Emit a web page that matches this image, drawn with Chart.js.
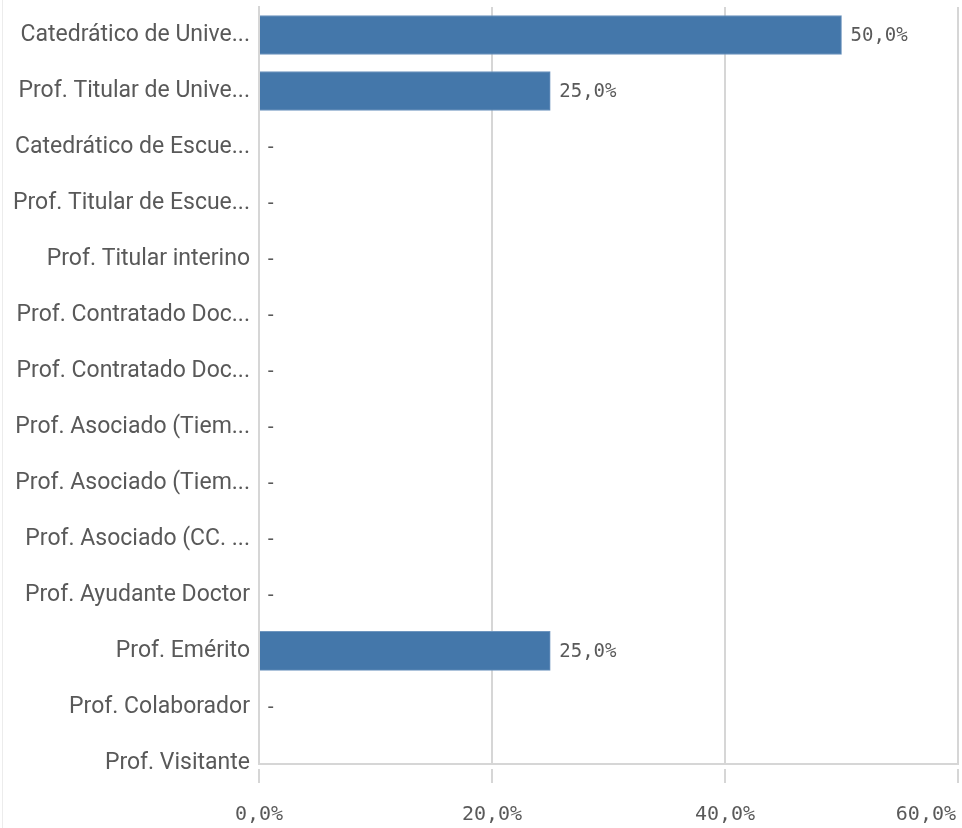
<!DOCTYPE html>
<html>
<head>
<meta charset="utf-8">
<script src="https://cdn.jsdelivr.net/npm/chart.js@4.4.1/dist/chart.umd.min.js"></script>
<style>
  html, body { margin: 0; padding: 0; background: #ffffff; }
  #wrap { position: relative; width: 962px; height: 828px; }
</style>
</head>
<body>
<div id="wrap"><canvas id="c" width="962" height="828"></canvas></div>
<script>
const categories = [
  "Catedrático de Unive...",
  "Prof. Titular de Unive...",
  "Catedrático de Escue...",
  "Prof. Titular de Escue...",
  "Prof. Titular interino",
  "Prof. Contratado Doc...",
  "Prof. Contratado Doc...",
  "Prof. Asociado (Tiem...",
  "Prof. Asociado (Tiem...",
  "Prof. Asociado (CC. ...",
  "Prof. Ayudante Doctor",
  "Prof. Emérito",
  "Prof. Colaborador",
  "Prof. Visitante"
];
const values = [50, 25, 0, 0, 0, 0, 0, 0, 0, 0, 0, 25, 0, null];
const xTicks = [0, 20, 40, 60];

const BAR_COLOR = '#4477aa';
const TEXT_COLOR = '#595959';
const GRID_COLOR = '#d6d6d6';
const NUM_FONT = '19px "DejaVu Sans Mono"';
const TICK_FONT = '20px "DejaVu Sans Mono"';
const Y_MIN = -0.5, Y_MAX = 13.02;

const fmt = v => v.toFixed(1).replace('.', ',') + '%';

const points = values.map((v, i) => ({ x: v, y: i }));

const overlay = {
  id: 'overlay',
  beforeDraw(chart) {
    const ctx = chart.ctx;
    ctx.save();
    ctx.strokeStyle = '#ececec';
    ctx.lineWidth = 1;
    ctx.beginPath();
    ctx.moveTo(2.5, 0);
    ctx.lineTo(2.5, chart.height);
    ctx.stroke();
    ctx.restore();
  },
  afterDatasetsDraw(chart) {
    const ctx = chart.ctx;
    const meta = chart.getDatasetMeta(0);
    ctx.save();
    ctx.fillStyle = TEXT_COLOR;
    ctx.textBaseline = 'middle';
    ctx.textAlign = 'left';
    ctx.font = NUM_FONT;
    meta.data.forEach((bar, i) => {
      const v = values[i];
      if (v === null || v === undefined) return;
      if (v > 0) ctx.fillText(fmt(v), bar.x + 9, bar.y + 1);
      else ctx.fillText('-', bar.x + 6, bar.y + 1);
    });
    // x tick labels
    const xs = chart.scales.x;
    ctx.font = TICK_FONT;
    ctx.textAlign = 'center';
    xTicks.forEach(t => {
      const txt = fmt(t);
      const w = ctx.measureText(txt).width;
      let cx = xs.getPixelForValue(t);
      if (cx + w / 2 > chart.width - 6) cx = chart.width - 6 - w / 2;
      ctx.fillText(txt, cx, 815);
    });
    ctx.restore();
  }
};

new Chart(document.getElementById('c'), {
  type: 'bar',
  data: {
    datasets: [{
      data: points,
      backgroundColor: BAR_COLOR,
      borderColor: '#6f96bf',
      borderWidth: 1,
      borderSkipped: 'start',
      barThickness: 39
    }]
  },
  options: {
    indexAxis: 'y',
    responsive: false,
    animation: false,
    layout: { padding: { top: 7, right: 4, left: 0, bottom: 0 } },
    plugins: {
      legend: { display: false },
      tooltip: { enabled: false }
    },
    scales: {
      y: {
        type: 'linear',
        reverse: true,
        min: Y_MIN,
        max: Y_MAX,
        offset: false,
        afterBuildTicks(scale) {
          scale.min = Y_MIN;
          scale.max = Y_MAX;
          scale.ticks = categories.map((c, i) => ({ value: i }));
        },
        afterFit(scale) {
          scale.width = 259;
          scale.paddingTop = 0;
          scale.paddingBottom = 0;
        },
        grid: { display: false, drawTicks: false, offset: false },
        border: { display: true, color: GRID_COLOR, width: 2 },
        ticks: {
          autoSkip: false,
          padding: 9,
          color: TEXT_COLOR,
          font: { family: 'Roboto', size: 23 },
          callback: (v) => categories[v] !== undefined ? categories[v] : ''
        }
      },
      x: {
        type: 'linear',
        min: 0,
        max: 60,
        afterBuildTicks(scale) {
          scale.ticks = xTicks.map(t => ({ value: t }));
        },
        afterFit(scale) {
          scale.height = 64;
          scale.paddingLeft = 0;
          scale.paddingRight = 0;
        },
        grid: {
          display: true,
          color: GRID_COLOR,
          lineWidth: 2,
          drawOnChartArea: true,
          drawTicks: true,
          tickLength: 19,
          tickColor: GRID_COLOR,
          tickWidth: 2,
          tickBorderDash: [0, 4, 15, 200]
        },
        border: { display: true, color: GRID_COLOR, width: 2 },
        ticks: { display: false }
      }
    }
  },
  plugins: [overlay]
});
</script>
</body>
</html>
